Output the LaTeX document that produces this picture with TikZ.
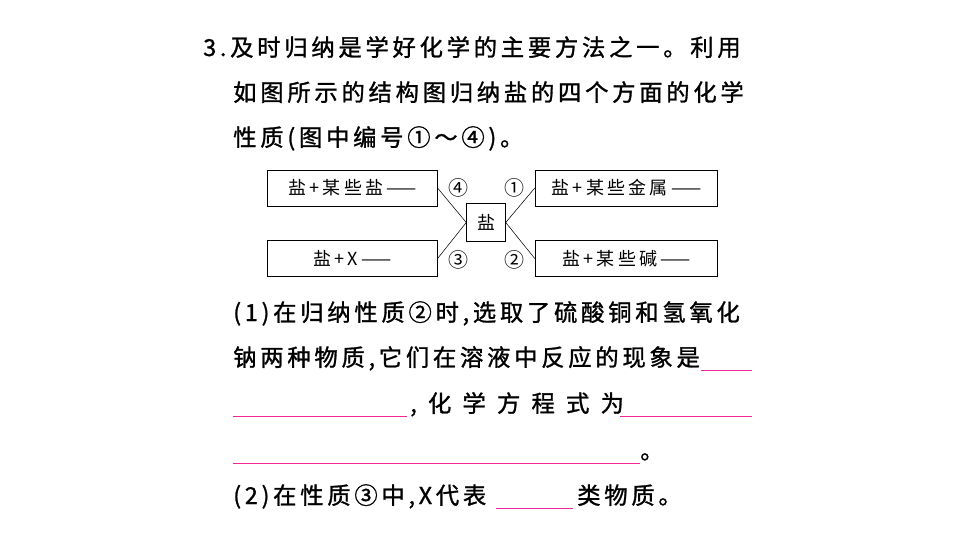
\documentclass[tikz,border=0pt]{standalone}
\usepackage{fontspec}
\setmainfont{Noto Sans CJK SC}
\newfontfamily\boxfont{Noto Sans CJK SC}[LetterSpace=18]
\newfontfamily\spfont{Noto Sans CJK SC}[LetterSpace=16,FakeBold=1.2]
\newfontfamily\widefont{Noto Sans CJK SC}[LetterSpace=48,FakeBold=1.2]
\usetikzlibrary{positioning}
\tikzset{
  txt/.style={anchor=base west,inner sep=0pt,font=\fontsize{17.5pt}{20pt}\spfont},
  salt/.style={draw,semithick,minimum width=127pt,minimum height=27pt,inner sep=0pt,font=\fontsize{13.5pt}{15pt}\boxfont},
  num/.style={inner sep=0pt,font=\fontsize{15pt}{17pt}\boxfont},
  blank/.style={magenta!80!pink,semithick}
}
\begin{document}
\begin{tikzpicture}[x=0.75pt,y=-0.75pt]
     \useasboundingbox (0,0) rectangle (960,540);

     % question text
     \node[txt] (l1) at (203,56) {3.及时归纳是学好化学的主要方法之一。利用};
     \node[txt] (l2) at (233,101) {如图所示的结构图归纳盐的四个方面的化学};
     \node[txt] (l3) at (233,146) {性质(图中编号①～④)。};

     % structure diagram
     \node[salt] (tl) at (352.5,188) {盐+某些盐——};
     \node[salt] (bl) at (352.5,258.5) {盐+X——};
     \node[salt,minimum width=137pt] (tr) at (626.5,188) {盐+某些金属——};
     \node[salt,minimum width=137pt] (br) at (626.5,258.5) {盐+某些碱——};
     \node[draw,semithick,minimum size=29pt,inner sep=0pt,font=\fontsize{13.5pt}{15pt}\boxfont] (salt) at (486,222.5) {盐};
     \draw (tl.east) -- (salt.west);
     \draw (bl.east) -- (salt.west);
     \draw (tr.west) -- (salt.east);
     \draw (br.west) -- (salt.east);
     \node[num] (n4) at (458,188) {④};
     \node[num] (n1) at (514,188) {①};
     \node[num] (n3) at (458,260) {③};
     \node[num] (n2) at (514,260) {②};

     % part (1)
     \node[txt] (p1) at (233,321) {(1)在归纳性质②时,选取了硫酸铜和氢氧化};
     \node[txt] (p2) at (233,366) {钠两种物质,它们在溶液中反应的现象是};
     \coordinate (b1a) at (701,370);
     \coordinate (b1b) at (752,370);
     \draw[blank] (b1a) -- (b1b);
     \coordinate (b2a) at (233,416);
     \coordinate (b2b) at (407,416);
     \draw[blank] (b2a) -- (b2b);
     \node[txt,font=\fontsize{17.5pt}{20pt}\widefont] (p3) at (410,412) {,化学方程式为};
     \coordinate (b3a) at (620,416);
     \coordinate (b3b) at (752,416);
     \draw[blank] (b3a) -- (b3b);
     \coordinate (b4a) at (233,463);
     \coordinate (b4b) at (640,463);
     \draw[blank] (b4a) -- (b4b);
     \node[txt] (p4) at (640,459) {。};

     % part (2)
     \node[txt] (q1) at (233,504) {(2)在性质③中,X代表};
     \coordinate (b5a) at (496,508);
     \coordinate (b5b) at (573,508);
     \draw[blank] (b5a) -- (b5b);
     \node[txt] (q2) at (577,504) {类物质。};
  \end{tikzpicture}
\end{document}
